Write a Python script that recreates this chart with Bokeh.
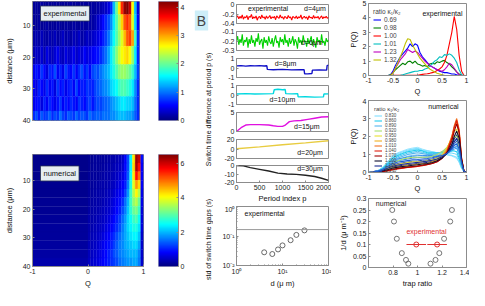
import numpy as np
from bokeh.plotting import figure
from bokeh.models import (Range1d, FixedTicker, Label, LinearColorMapper,
                          ColumnDataSource, Legend, LegendItem, Span)
from bokeh.transform import linear_cmap
from bokeh.layouts import row, column
from bokeh.embed import file_html
from bokeh.resources import INLINE

FONT = "Liberation Sans"
TICK_FS = "7px"
LAB_FS = "7.5px"
TXT_FS = "7px"
AX_COL = "#8c8c8c"

# ======================= DATA =======================
# ---- Panel A, experimental heatmap (rows = distance bands, cols = Q bins of 0.05)
exp_q_edges = [round(-1 + 0.05 * i, 2) for i in range(41)]
exp_d_edges = [2.4, 6.5, 11.5, 16.5, 22.3, 27.0, 32.4, 37.0, 40.0]
exp_r1 = [0.10,0.12,0.10,0.15,0.10,0.10,0.12,0.10,0.14,0.10,0.10,0.12,0.10,0.10,0.15,0.10,0.12,0.10,0.10,0.14,
          0.10,0.12,0.15,0.12,0.18,0.20,0.25,0.30,0.40,0.70,1.30,2.00,2.70,3.50,4.10,4.20,3.90,2.60,1.30,0.40]
exp_r2 = [0.12,0.10,0.14,0.10,0.12,0.15,0.10,0.12,0.10,0.16,0.12,0.10,0.14,0.12,0.10,0.15,0.12,0.10,0.16,0.12,
          0.14,0.18,0.15,0.20,0.30,0.40,0.55,0.70,0.85,1.10,1.50,1.90,2.30,2.80,3.30,3.50,3.30,2.50,1.40,0.50]
exp_r3 = [0.15,0.20,0.15,0.25,0.18,0.15,0.22,0.18,0.25,0.15,0.20,0.28,0.18,0.22,0.15,0.25,0.20,0.30,0.18,0.22,
          0.28,0.25,0.30,0.35,0.40,0.50,0.65,0.80,1.00,1.30,1.60,1.90,2.20,2.50,2.90,3.30,3.40,3.00,1.80,0.70]
exp_r4 = [0.20,0.30,0.25,0.35,0.20,0.40,0.30,0.25,0.35,0.45,0.30,0.25,0.40,0.30,0.35,0.45,0.30,0.40,0.35,0.50,
          0.40,0.45,0.50,0.55,0.60,0.70,0.85,1.00,1.20,1.50,1.80,2.10,2.40,2.60,2.70,2.80,2.60,2.20,1.50,0.70]
exp_r5 = [0.45,0.60,0.50,0.75,0.55,0.40,0.70,0.60,0.85,0.50,0.65,0.45,0.80,0.60,0.55,0.75,0.50,0.70,0.85,0.60,
          0.75,0.55,0.80,0.90,0.85,1.00,1.10,1.20,1.30,1.50,1.70,1.90,2.10,2.20,2.20,2.10,2.00,1.80,1.30,0.80]
exp_r6 = [0.50,0.40,0.65,0.55,0.45,0.70,0.50,0.60,0.40,0.75,0.55,0.65,0.45,0.60,0.70,0.50,0.80,0.55,0.65,0.60,
          0.75,0.70,0.65,0.80,0.90,0.95,1.05,1.10,1.20,1.40,1.50,1.60,1.80,1.90,1.90,1.80,1.70,1.50,1.10,0.70]
exp_r7 = [0.45,0.55,0.60,0.40,0.65,0.50,0.70,0.55,0.45,0.60,0.75,0.50,0.65,0.55,0.70,0.60,0.50,0.75,0.65,0.55,
          0.70,0.80,0.60,0.75,0.85,0.80,0.90,0.95,1.00,1.10,1.20,1.30,1.40,1.50,1.50,1.40,1.40,1.30,1.00,0.70]
exp_r8 = [0.70,0.85,0.65,0.90,0.75,0.80,0.95,0.70,0.85,0.75,1.00,0.80,0.70,0.90,0.85,0.75,0.95,0.80,0.90,0.85,
          0.75,1.00,0.85,0.90,0.95,0.90,1.00,1.00,1.00,1.10,1.10,1.20,1.30,1.30,1.30,1.20,1.20,1.10,0.90,0.70]
exp_rows = [exp_r1, exp_r2, exp_r3, exp_r4, exp_r5, exp_r6, exp_r7, exp_r8]
exp_clim = 4.2
exp_cb_ticks = [0, 1, 2, 3, 4]

# ---- Panel A, numerical heatmap (Q<0 one value per row, Q>=0 in bins of 0.05)
num_d_edges = [1, 4, 7, 10, 13, 16, 19, 22, 25, 28, 31, 34, 37, 40]
num_q_edges = [round(0.05 * i, 2) for i in range(21)]
num_left = [0.10, 0.10, 0.10, 0.12, 0.12, 0.14, 0.15, 0.16, 0.18, 0.20, 0.22, 0.25, 0.28]
num_r1 = [0.15,0.15,0.18,0.18,0.20,0.20,0.22,0.25,0.28,0.30,0.35,0.40,0.50,0.80,1.30,2.40,4.20,6.30,6.00,0.90]
num_r2 = [0.15,0.16,0.18,0.20,0.20,0.22,0.25,0.28,0.30,0.35,0.40,0.45,0.55,0.85,1.30,2.40,4.30,6.20,5.60,0.80]
num_r3 = [0.16,0.18,0.20,0.20,0.22,0.25,0.28,0.30,0.35,0.40,0.45,0.55,0.65,0.90,1.40,2.50,4.20,5.60,5.00,0.80]
num_r4 = [0.18,0.20,0.22,0.24,0.26,0.28,0.30,0.35,0.40,0.45,0.55,0.65,0.80,1.00,1.60,2.60,3.90,4.70,4.30,0.80]
num_r5 = [0.20,0.22,0.24,0.26,0.28,0.30,0.35,0.40,0.45,0.55,0.65,0.75,0.90,1.20,1.80,2.80,3.60,4.10,3.60,0.70]
num_r6 = [0.22,0.24,0.26,0.28,0.30,0.35,0.40,0.45,0.55,0.65,0.75,0.90,1.10,1.50,2.00,2.80,3.40,3.60,3.10,0.70]
num_r7 = [0.25,0.27,0.30,0.32,0.35,0.40,0.45,0.50,0.60,0.70,0.85,1.00,1.30,1.60,2.10,2.70,3.10,3.20,2.80,0.60]
num_r8 = [0.28,0.30,0.33,0.36,0.40,0.45,0.50,0.60,0.70,0.85,1.00,1.20,1.50,1.80,2.20,2.50,2.80,2.90,2.50,0.60]
num_r9 = [0.30,0.33,0.36,0.40,0.45,0.50,0.60,0.70,0.80,0.95,1.10,1.30,1.60,1.90,2.20,2.40,2.60,2.60,2.30,0.60]
num_r10 = [0.33,0.36,0.40,0.45,0.50,0.60,0.70,0.80,0.95,1.10,1.30,1.50,1.70,1.90,2.10,2.30,2.40,2.40,2.10,0.50]
num_r11 = [0.36,0.40,0.45,0.50,0.60,0.70,0.80,0.90,1.00,1.20,1.40,1.60,1.70,1.90,2.00,2.10,2.20,2.20,1.90,0.50]
num_r12 = [0.40,0.45,0.50,0.55,0.65,0.75,0.85,1.00,1.10,1.30,1.40,1.60,1.70,1.80,1.90,2.00,2.00,2.00,1.70,0.50]
num_r13 = [0.45,0.50,0.55,0.60,0.70,0.80,0.90,1.00,1.10,1.20,1.30,1.50,1.60,1.70,1.80,1.80,1.90,1.90,1.60,0.50]
num_rows = [num_r1, num_r2, num_r3, num_r4, num_r5, num_r6, num_r7, num_r8, num_r9, num_r10,
            num_r11, num_r12, num_r13]
num_clim = 6.5
num_cb_ticks = [0, 2, 4, 6]

# ---- Panel B, switch time differences vs period index
period_dense = list(range(0, 2001, 25))
sw_d4 = [-0.27,-0.24,-0.30,-0.25,-0.29,-0.22,-0.31,-0.26,-0.28,-0.23,
         -0.32,-0.25,-0.27,-0.21,-0.30,-0.26,-0.29,-0.24,-0.33,-0.27,
         -0.25,-0.30,-0.22,-0.28,-0.26,-0.31,-0.24,-0.29,-0.27,-0.23,
         -0.30,-0.26,-0.28,-0.25,-0.32,-0.24,-0.27,-0.29,-0.22,-0.28,
         -0.26,-0.31,-0.25,-0.27,-0.30,-0.23,-0.28,-0.26,-0.33,-0.25,
         -0.27,-0.29,-0.24,-0.30,-0.26,-0.28,-0.22,-0.31,-0.27,-0.25,
         -0.29,-0.26,-0.32,-0.24,-0.28,-0.27,-0.30,-0.23,-0.29,-0.26,
         -0.28,-0.25,-0.31,-0.27,-0.24,-0.30,-0.26,-0.28,-0.25,-0.29,
         -0.27]
sw_d6 = [-0.20,-0.15,-0.24,-0.18,-0.22,-0.13,-0.25,-0.19,-0.21,-0.16,
         -0.27,-0.18,-0.23,-0.14,-0.22,-0.19,-0.26,-0.17,-0.21,-0.12,
         -0.24,-0.20,-0.18,-0.28,-0.16,-0.22,-0.19,-0.25,-0.15,-0.21,
         -0.23,-0.17,-0.26,-0.19,-0.14,-0.22,-0.20,-0.27,-0.16,-0.21,
         -0.18,-0.24,-0.13,-0.22,-0.19,-0.26,-0.17,-0.23,-0.20,-0.15,
         -0.25,-0.18,-0.21,-0.28,-0.16,-0.22,-0.19,-0.24,-0.14,-0.21,
         -0.20,-0.26,-0.17,-0.23,-0.19,-0.15,-0.25,-0.18,-0.22,-0.27,
         -0.16,-0.21,-0.19,-0.24,-0.13,-0.22,-0.20,-0.25,-0.17,-0.21,
         -0.19]
sw_d8_p = [0, 100, 200, 300, 400, 500, 600, 660, 670, 800, 1000, 1200, 1400, 1470, 1480,
           1550, 1640, 1650, 1800, 1960, 1970, 2000]
sw_d8 = [0.22, 0.25, 0.20, 0.24, 0.22, 0.25, 0.21, 0.23, -0.15, -0.18, -0.15, -0.20, -0.17,
         -0.18, -0.60, -0.62, -0.58, -0.22, -0.20, -0.22, 0.25, 0.30]
sw_d10_p = [0, 200, 400, 600, 800, 820, 900, 1000, 1060, 1070, 1200, 1330, 1340, 1500, 1700,
            1890, 1900, 2000]
sw_d10 = [0.10, 0.15, 0.10, 0.12, 0.15, 0.55, 0.60, 0.55, 0.58, 0.15, 0.12, 0.15, -0.20, -0.18,
          -0.22, -0.20, 0.10, 0.12]
sw_d15_p = [0, 100, 200, 300, 500, 700, 800, 900, 1000, 1050, 1150, 1250, 1400, 1550, 1700, 1850, 2000]
sw_d15 = [0.0, 1.0, 1.7, 1.8, 1.8, 1.7, 1.5, 1.35, 1.35, 1.6, 2.6, 2.8, 2.9, 3.2, 3.5, 3.8, 3.9]
sw_d20_p = [0, 500, 1000, 1500, 2000]
sw_d20 = [0.5, 4.5, 9.0, 13.0, 17.5]
sw_d30_p = [0, 150, 300, 500, 700, 900, 1100, 1300, 1500, 1700, 1850, 2000]
sw_d30 = [0.0, -0.5, -2.5, -4.5, -6.5, -9.0, -10.0, -10.5, -11.5, -13.0, -15.0, -17.5]
b_series = [(period_dense, sw_d4), (period_dense, sw_d6), (sw_d8_p, sw_d8), (sw_d10_p, sw_d10),
            (sw_d15_p, sw_d15), (sw_d20_p, sw_d20), (sw_d30_p, sw_d30)]
b_colors = ["#ff0000", "#00d000", "#1010c8", "#00d8e0", "#e010e0", "#e8cc40", "#222222"]
b_labels = ["d=4\u03bcm", "d=6\u03bcm", "d=8\u03bcm", "d=10\u03bcm", "d=15\u03bcm", "d=20\u03bcm", "d=30\u03bcm"]
b_ylims = [(-0.4, 0), (-0.3, -0.1), (-1, 1), (-1, 1), (0, 5), (-20, 20), (-20, 0)]
b_yticks = [[-0.4, -0.2, 0], [-0.3, -0.2, -0.1], [-1, 0, 1], [-1, 0, 1], [0, 5], [-20, 0, 20], [-20, -10, 0]]
b_label_pos = [(1470, -0.08), (1400, -0.22), (830, 0.5), (720, -0.5), (1250, 1.2), (1320, -8), (1320, -4)]
period_ticks = [0, 500, 1000, 1500, 2000]

# ---- Panel B bottom: std of switch time gaps vs d (log-log)
gap_d = [4, 6, 8, 10, 15, 20, 30]
gap_std = [0.028, 0.0245, 0.035, 0.048, 0.072, 0.109, 0.155]
gap_ref_level = 0.165

# ---- Panel C top: experimental P(Q)
pq_q = [round(-1 + 0.05 * i, 2) for i in range(41)]
pq_069 = [0]*9 + [0.05,0.3,0.7,1.0,1.3,1.5,1.7,1.9,2.2,2.0,2.2,2.1,1.6,1.3,1.1,0.9,0.7,0.6,0.5,0.4,
                  0.3,0.25,0.2,0.2,0.15,0.1,0.1,0.05,0.02,0,0,0]
pq_098 = [0]*9 + [0.05,0.2,0.4,0.55,0.7,0.85,0.75,0.95,1.0,0.85,1.0,0.8,0.75,0.65,0.7,0.6,0.8,0.85,0.8,
                  0.95,0.9,1.0,1.05,0.9,0.8,0.6,0.45,0.25,0.1,0.02,0,0]
pq_100 = [0]*10 + [0.02]*11 + [0.05,0.08,0.1,0.12,0.15,0.2,0.25,0.35,0.45,0.6,0.9,1.4,2.2,3.0,4.1,3.2,
                               1.4,0.3] + [0, 0]
pq_101 = [0]*13 + [0.02,0.05,0.1,0.15,0.2,0.25,0.3,0.3,0.35,0.35,0.45,0.5,0.65,0.8,1.0,1.1,1.3,1.25,
                   1.45,1.4,1.5,1.4,1.2,0.9,0.4,0.05] + [0, 0]
pq_123 = [0]*10 + [0.2,0.5,0.8,1.1,1.3,1.5,1.8,1.7,1.6,1.7,1.6,1.4,1.2,1.0,0.85,0.7,0.6,0.5,0.4,0.35,
                   0.3,0.4,0.6,0.85,0.75,0.5,0.25,0.05] + [0, 0, 0]
pq_132 = [0]*10 + [0.15,0.5,0.9,1.3,1.7,2.2,2.55,2.5,2.1,1.8,1.5,1.2,1.0,0.8,0.6,0.45,0.35,0.25,0.15,
                   0.1,0.05,0.02] + [0]*9
pq_exp = [pq_069, pq_098, pq_100, pq_101, pq_123, pq_132]
pq_exp_labels = ["0.69", "0.98", "1.00", "1.01", "1.23", "1.32"]
pq_exp_colors = ["#0000ff", "#008000", "#ff0000", "#00bfbf", "#bf00bf", "#bfbf00"]

# ---- Panel C middle: numerical P(Q)
pn_q = [-1, -0.9, -0.8, -0.7, -0.6, -0.5, -0.4, -0.3, -0.2, -0.1, 0, 0.1, 0.2, 0.3, 0.4, 0.5,
        0.6, 0.7, 0.75, 0.8, 0.85, 0.9, 0.95, 1.0]
pn_0830 = [0,0.02,0.1,0.3,0.6,0.9,1.05,1.15,1.25,1.3,1.35,1.25,1.2,1.15,1.1,1.05,1.0,0.95,0.9,0.85,0.6,0.25,0.05,0]
pn_0860 = [0,0.02,0.08,0.25,0.5,0.8,0.95,1.05,1.15,1.2,1.25,1.2,1.1,1.1,1.1,1.1,1.15,1.2,1.2,1.15,0.8,0.3,0.05,0]
pn_0890 = [0,0.02,0.06,0.2,0.4,0.65,0.8,0.9,1.0,1.05,1.1,1.05,1.0,1.0,1.05,1.15,1.3,1.5,1.6,1.55,1.1,0.4,0.05,0]
pn_0920 = [0,0.02,0.05,0.15,0.3,0.5,0.65,0.75,0.8,0.85,0.85,0.85,0.85,0.9,1.0,1.15,1.4,1.8,2.0,2.0,1.4,0.5,0.05,0]
pn_0950 = [0,0.01,0.04,0.1,0.2,0.35,0.45,0.5,0.55,0.6,0.6,0.6,0.65,0.7,0.8,1.0,1.35,1.9,2.3,2.4,1.8,0.6,0.05,0]
pn_0980 = [0,0.01,0.03,0.08,0.15,0.25,0.3,0.35,0.4,0.42,0.45,0.48,0.5,0.6,0.7,0.9,1.3,2.0,2.5,2.8,2.2,0.7,0.05,0]
pn_1010 = [0,0.01,0.02,0.05,0.1,0.17,0.22,0.25,0.3,0.33,0.36,0.4,0.45,0.52,0.62,0.82,1.2,2.0,2.6,3.0,2.4,0.8,0.05,0]
pn_1040 = [0,0.01,0.02,0.05,0.1,0.16,0.2,0.24,0.28,0.3,0.34,0.38,0.43,0.5,0.6,0.8,1.15,1.9,2.5,2.9,2.3,0.8,0.05,0]
pn_1070 = [0,0.01,0.03,0.06,0.12,0.18,0.23,0.27,0.3,0.33,0.36,0.4,0.45,0.5,0.6,0.78,1.1,1.75,2.3,2.7,2.2,0.75,0.05,0]
pn_1100 = [0,0.01,0.04,0.1,0.17,0.25,0.3,0.33,0.36,0.4,0.43,0.47,0.5,0.56,0.65,0.8,1.05,1.55,2.0,2.3,1.9,0.7,0.05,0]
pn_1130 = [0,0.02,0.06,0.14,0.25,0.35,0.42,0.46,0.5,0.53,0.56,0.6,0.63,0.68,0.75,0.88,1.05,1.4,1.7,1.9,1.6,0.6,0.05,0]
pn_1170 = [0,0.02,0.08,0.2,0.35,0.5,0.58,0.62,0.66,0.7,0.72,0.75,0.78,0.82,0.88,0.95,1.05,1.3,1.5,1.6,1.3,0.5,0.05,0]
pn_curves = [pn_0830, pn_0860, pn_0890, pn_0920, pn_0950, pn_0980, pn_1010, pn_1040, pn_1070,
             pn_1100, pn_1130, pn_1170]
pn_labels = ["0.830", "0.860", "0.890", "0.920", "0.950", "0.980", "1.010", "1.040", "1.070",
             "1.100", "1.130", "1.170"]
pn_colors = ["#80dfff", "#22ccee", "#55b5ee", "#a8e070", "#e8e030", "#f0b020", "#f07020",
             "#e02010", "#a00000", "#101030", "#1a2a90", "#2060d0"]
# further (unlabelled) numerical curves that make up the dense mesh
pn_extra = [
    [0,0.02,0.09,0.28,0.55,0.85,1.0,1.1,1.2,1.28,1.3,1.22,1.15,1.12,1.1,1.08,1.08,1.08,1.05,1.0,0.7,0.28,0.05,0],
    [0,0.02,0.07,0.22,0.45,0.72,0.88,0.98,1.08,1.12,1.18,1.12,1.05,1.05,1.08,1.12,1.22,1.35,1.4,1.35,0.95,0.35,0.05,0],
    [0,0.02,0.05,0.18,0.35,0.58,0.72,0.82,0.9,0.95,0.98,0.95,0.92,0.95,1.02,1.15,1.35,1.65,1.8,1.78,1.25,0.45,0.05,0],
    [0,0.01,0.05,0.12,0.2,0.3,0.36,0.4,0.43,0.46,0.5,0.53,0.56,0.62,0.7,0.84,1.05,1.48,1.85,2.1,1.75,0.65,0.05,0],
    [0,0.02,0.07,0.17,0.3,0.42,0.5,0.54,0.58,0.62,0.64,0.68,0.7,0.75,0.82,0.92,1.05,1.35,1.6,1.75,1.45,0.55,0.05,0],
    [0,0.03,0.1,0.24,0.42,0.58,0.66,0.7,0.75,0.8,0.82,0.85,0.86,0.88,0.92,0.98,1.06,1.25,1.4,1.45,1.2,0.45,0.05,0],
    [0,0.04,0.12,0.28,0.5,0.68,0.76,0.8,0.86,0.9,0.93,0.94,0.94,0.95,0.96,1.0,1.05,1.2,1.3,1.35,1.1,0.4,0.05,0],
    [0,0.03,0.11,0.32,0.62,0.95,1.1,1.2,1.3,1.36,1.4,1.3,1.22,1.16,1.1,1.02,0.98,0.92,0.85,0.78,0.55,0.22,0.04,0],
]
pn_extra_colors = ["#66d8f8", "#44c4f0", "#66bbee", "#162070", "#1e44b0", "#2a78e0", "#3a90ea", "#9ae6ff"]

# ---- Panel C bottom: 1/d vs trap ratio
tr_num = [0.794, 0.808, 0.831, 0.872, 0.906, 0.925, 1.281, 1.267, 1.217, 1.178, 1.147, 1.106]
invd_num = [0.25, 0.2, 0.125, 0.0625, 0.033, 0.0167, 0.25, 0.2, 0.125, 0.0625, 0.033, 0.0167]
tr_exp = [0.99, 1.16]
invd_exp = [0.1, 0.1]
tr_exp_err = [0.08, 0.08]

# ======================= HELPERS =======================
def jet_palette(n=256):
    out = []
    for i in range(n):
        t = i / (n - 1)
        r = min(max(1.5 - abs(4 * t - 3), 0), 1)
        g = min(max(1.5 - abs(4 * t - 2), 0), 1)
        b = min(max(1.5 - abs(4 * t - 1), 0), 1)
        out.append("#%02x%02x%02x" % (int(r * 255), int(g * 255), int(b * 255)))
    return out

JET = jet_palette()


def spec(ox, oy, w, h, ml, mr, mt, mb, xr, yr, xlog=False, ylog=False):
    return dict(ox=ox, oy=oy, w=w, h=h, ml=ml, mr=mr, mt=mt, mb=mb, xr=xr, yr=yr, xlog=xlog, ylog=ylog)


def to_data(s, cx, cy):
    fx0 = s['ox'] + s['ml']; fx1 = s['ox'] + s['w'] - s['mr']
    fy0 = s['oy'] + s['mt']; fy1 = s['oy'] + s['h'] - s['mb']
    x0, x1 = s['xr']; y0, y1 = s['yr']
    if s['xlog']:
        x0, x1 = np.log10(x0), np.log10(x1)
    if s['ylog']:
        y0, y1 = np.log10(y0), np.log10(y1)
    x = x0 + (cx - fx0) / (fx1 - fx0) * (x1 - x0)
    y = y0 + (fy1 - cy) / (fy1 - fy0) * (y1 - y0)
    if s['xlog']:
        x = 10 ** x
    if s['ylog']:
        y = 10 ** y
    return float(x), float(y)


def style_axes(p):
    for ax in p.axis:
        ax.major_label_text_font = FONT
        ax.major_label_text_font_size = TICK_FS
        ax.major_label_text_color = "#222222"
        ax.axis_label_text_font = FONT
        ax.axis_label_text_font_size = LAB_FS
        ax.axis_label_text_font_style = "normal"
        ax.axis_label_text_color = "#111111"
        ax.axis_line_color = AX_COL
        ax.major_tick_line_color = AX_COL
        ax.minor_tick_line_color = AX_COL
        ax.major_tick_in = 2
        ax.major_tick_out = 0
        ax.minor_tick_in = 1
        ax.minor_tick_out = 0
        ax.major_label_standoff = 2
        ax.axis_label_standoff = 2


def mkfig(s, xloc="below", yloc="left"):
    p = figure(width=s['w'], height=s['h'],
               x_range=Range1d(*s['xr']), y_range=Range1d(*s['yr']),
               x_axis_type="log" if s['xlog'] else "linear",
               y_axis_type="log" if s['ylog'] else "linear",
               x_axis_location=xloc, y_axis_location=yloc,
               output_backend="svg", toolbar_location=None,
               min_border_left=s['ml'], min_border_right=s['mr'],
               min_border_top=s['mt'], min_border_bottom=s['mb'])
    p.grid.visible = False
    p.outline_line_color = AX_COL
    p.background_fill_color = "white"
    p.border_fill_color = "white"
    style_axes(p)
    return p


def set_ticks(ax, ticks, labels=None, minor=None):
    ax.ticker = FixedTicker(ticks=ticks, minor_ticks=minor or [])
    ax.major_label_overrides = {t: (labels[i] if labels else "%g" % t) for i, t in enumerate(ticks)}


def add_text(p, s, cx, cy, text, size=TXT_FS, align="left", baseline="middle", angle=0.0,
             color="#111111", bg=None, border=None, pad=0):
    x, y = to_data(s, cx, cy)
    p.add_layout(Label(x=x, y=y, text=text, text_font=FONT, text_font_size=size,
                       text_align=align, text_baseline=baseline, angle=angle, text_color=color,
                       background_fill_color=bg, border_line_color=border, border_line_width=0.8,
                       padding=pad))


LETTER_BG = "#cdeef8"
BOX_BG = "#e6eef2"

# ======================= PANEL A =======================
sA1 = spec(0, 0, 158, 140, 32, 19, 1, 20, (-1, 1), (40, 2.4))
pA1 = mkfig(sA1, xloc=None)
L, R, T, B, V = [], [], [], [], []
for j, rv in enumerate(exp_rows):
    for i, v in enumerate(rv):
        L.append(exp_q_edges[i]); R.append(exp_q_edges[i + 1])
        T.append(exp_d_edges[j]); B.append(exp_d_edges[j + 1]); V.append(v)
srcA1 = ColumnDataSource(dict(left=L, right=R, top=T, bottom=B, v=V))
cmapA1 = linear_cmap("v", JET, 0, exp_clim)
pA1.quad(left="left", right="right", top="top", bottom="bottom", source=srcA1,
         fill_color=cmapA1, line_color=cmapA1, line_width=0.3)
pA1.yaxis.axis_label = "distance (\u03bcm)"
pA1.yaxis.axis_label_standoff = 6
set_ticks(pA1.yaxis[0], [10, 20, 30, 40])
add_text(pA1, sA1, 40, 13, "experimental", size="7.5px", bg=BOX_BG, border="#2a3550", pad=3)
add_text(pA1, sA1, 11, 16, "A", size="15px", align="center", bg=LETTER_BG, pad=5)

sCB1 = spec(158, 0, 35, 140, 0, 15, 1, 19, (0, 1), (0, exp_clim))
cb1 = mkfig(sCB1, xloc=None, yloc="right")
cb1.image(image=[np.linspace(0, exp_clim, 256).reshape(256, 1)], x=0, y=0, dw=1, dh=exp_clim,
          color_mapper=LinearColorMapper(palette=JET, low=0, high=exp_clim))
set_ticks(cb1.yaxis[0], exp_cb_ticks)
cb1.outline_line_color = "#a0a0c0"

sA2 = spec(0, 140, 158, 150, 32, 15, 6, 20, (-1, 1), (40, 1))
pA2 = mkfig(sA2)
L, R, T, B, V = [], [], [], [], []
for j, rv in enumerate(num_rows):
    L.append(-1); R.append(0); T.append(num_d_edges[j]); B.append(num_d_edges[j + 1]); V.append(num_left[j])
    for i, v in enumerate(rv):
        L.append(num_q_edges[i]); R.append(num_q_edges[i + 1])
        T.append(num_d_edges[j]); B.append(num_d_edges[j + 1]); V.append(v)
srcA2 = ColumnDataSource(dict(left=L, right=R, top=T, bottom=B, v=V))
cmapA2 = linear_cmap("v", JET, 0, num_clim)
pA2.quad(left="left", right="right", top="top", bottom="bottom", source=srcA2,
         fill_color=cmapA2, line_color=cmapA2, line_width=0.3)
pA2.yaxis.axis_label = "distance (\u03bcm)"
pA2.yaxis.axis_label_standoff = 6
pA2.xaxis.axis_label = "Q"
set_ticks(pA2.yaxis[0], [10, 20, 30, 40])
set_ticks(pA2.xaxis[0], [-1, 0, 1])
add_text(pA2, sA2, 40, 167, "numerical", size="7.5px", bg=BOX_BG, border="#2a3550", pad=3)

sCB2 = spec(158, 140, 35, 150, 0, 15, 14, 17, (0, 1), (0, num_clim))
cb2 = mkfig(sCB2, xloc=None, yloc="right")
cb2.image(image=[np.linspace(0, num_clim, 256).reshape(256, 1)], x=0, y=0, dw=1, dh=num_clim,
          color_mapper=LinearColorMapper(palette=JET, low=0, high=num_clim))
set_ticks(cb2.yaxis[0], num_cb_ticks)
cb2.outline_line_color = "#a0a0c0"

colA = column(row(pA1, cb1), row(pA2, cb2))

# ======================= PANEL B =======================
sLB = spec(193, 0, 20, 290, 0, 0, 0, 0, (0, 20), (290, 0))
pLB = mkfig(sLB, xloc=None, yloc=None)
pLB.outline_line_color = None
pLB.add_layout(Label(x=8, y=20, text="B", text_font=FONT, text_font_size="14px", text_align="center",
                     text_baseline="middle", background_fill_color=LETTER_BG, padding=2))
pLB.add_layout(Label(x=14.5, y=109, text="Switch time difference at period p (s)", text_font=FONT,
                     text_font_size="7px", text_align="center", text_baseline="middle",
                     angle=np.pi / 2, text_color="#111111"))
pLB.add_layout(Label(x=14.5, y=239, text="std of switch time gaps (s)", text_font=FONT,
                     text_font_size="7px", text_align="center", text_baseline="middle",
                     angle=np.pi / 2, text_color="#111111"))

b_figs = []
for i in range(7):
    if i < 6:
        s = spec(213, 27 * i, 118, 27, 23, 3, 4, 4, (0, 2000), b_ylims[i])
        p = mkfig(s, xloc=None)
    else:
        s = spec(213, 162, 118, 43, 23, 3, 3, 21, (0, 2000), b_ylims[i])
        p = mkfig(s)
        set_ticks(p.xaxis[0], period_ticks)
        p.xaxis.axis_label = "Period index p"
        p.xaxis.axis_label_standoff = 1
    xs, ys = b_series[i]
    p.line(xs, ys, line_color=b_colors[i], line_width=1.1 if i < 2 else 1.4)
    set_ticks(p.yaxis[0], b_yticks[i])
    lx, ly = b_label_pos[i]
    p.add_layout(Label(x=lx, y=ly, text=b_labels[i], text_font=FONT, text_font_size=TXT_FS,
                       text_baseline="middle", text_color="#111111"))
    if i == 0:
        p.add_layout(Label(x=250, y=ly, text="experimental", text_font=FONT, text_font_size=TXT_FS,
                           text_baseline="middle", text_color="#111111"))
    b_figs.append(p)

sBL = spec(213, 205, 118, 85, 23, 3, 1, 20, (1, 100), (0.01, 1), xlog=True, ylog=True)
pBL = mkfig(sBL)
pBL.add_layout(Span(location=gap_ref_level, dimension="width", line_color="#9a9a9a", line_width=1))
pBL.scatter(gap_d, gap_std, marker="circle", size=5, fill_color=None, line_color="#444444", line_width=0.8)
set_ticks(pBL.xaxis[0], [1, 10, 100], ["10\u2070", "10\u00b9", "10\u00b2"],
          minor=[2, 3, 4, 5, 6, 7, 8, 9, 20, 30, 40, 50, 60, 70, 80, 90])
set_ticks(pBL.yaxis[0], [0.01, 0.1, 1], ["10\u207b\u00b2", "10\u207b\u00b9", "10\u2070"],
          minor=[0.02, 0.03, 0.04, 0.05, 0.06, 0.07, 0.08, 0.09, 0.2, 0.3, 0.4, 0.5, 0.6, 0.7, 0.8, 0.9])
pBL.xaxis.axis_label = "d (\u03bc m)"
pBL.xaxis.axis_label_standoff = 1
pBL.add_layout(Label(x=1.5, y=0.6, text="experimental", text_font=FONT, text_font_size=TXT_FS,
                     text_baseline="middle", text_color="#111111"))

colB = row(pLB, column(*b_figs, pBL))

# ======================= PANEL C =======================
sC1 = spec(331, 0, 138, 98, 37, 3, 3, 20, (-1, 1), (0, 5))
pC1 = mkfig(sC1)
items = []
for ys, lab, colr in zip(pq_exp, pq_exp_labels, pq_exp_colors):
    r = pC1.line(pq_q, ys, line_color=colr, line_width=1.1)
    items.append(LegendItem(label=lab, renderers=[r]))
leg1 = Legend(items=items, location="top_left", title="ratio \u03ba\u2081/\u03ba\u2082",
              title_text_font=FONT, title_text_font_size="6.5px", title_text_font_style="normal",
              title_standoff=1, label_text_font=FONT, label_text_font_size="6.5px",
              glyph_width=8, glyph_height=7, label_height=7, spacing=1, padding=2, margin=3,
              label_standoff=3, border_line_alpha=0, background_fill_alpha=0)
pC1.add_layout(leg1)
set_ticks(pC1.xaxis[0], [-1, -0.5, 0, 0.5, 1])
set_ticks(pC1.yaxis[0], [0, 1, 2, 3, 4, 5])
pC1.xaxis.axis_label = "Q"
pC1.yaxis.axis_label = "P(Q)"
pC1.xaxis.axis_label_standoff = 1
pC1.add_layout(Label(x=0.1, y=4.3, text="experimental", text_font=FONT, text_font_size=TXT_FS,
                     text_baseline="middle", text_color="#111111"))
add_text(pC1, sC1, 346, 17.5, "C", size="15px", align="center", bg=LETTER_BG, pad=3)

sC2 = spec(331, 98, 138, 97, 37, 3, 2, 20, (-1, 1), (0, 4))
pC2 = mkfig(sC2)
for ys, colr in zip(pn_extra, pn_extra_colors):
    pC2.line(pn_q, ys, line_color=colr, line_width=1.0)
items = []
for ys, lab, colr in zip(pn_curves, pn_labels, pn_colors):
    r = pC2.line(pn_q, ys, line_color=colr, line_width=1.1)
    items.append(LegendItem(label=lab, renderers=[r]))
leg2 = Legend(items=items, location="top_left", title="ratio \u03ba\u2081/\u03ba\u2082",
              title_text_font=FONT, title_text_font_size="6px", title_text_font_style="normal",
              title_standoff=1, label_text_font=FONT, label_text_font_size="4.5px",
              glyph_width=8, glyph_height=3, label_height=3, spacing=0, padding=2, margin=4,
              label_standoff=3, border_line_alpha=0, background_fill_alpha=0)
pC2.add_layout(leg2)
set_ticks(pC2.xaxis[0], [-1, -0.5, 0, 0.5, 1])
set_ticks(pC2.yaxis[0], [0, 1, 2, 3, 4])
pC2.xaxis.axis_label = "Q"
pC2.yaxis.axis_label = "P(Q)"
pC2.xaxis.axis_label_standoff = 1
pC2.add_layout(Label(x=0.22, y=3.65, text="numerical", text_font=FONT, text_font_size=TXT_FS,
                     text_baseline="middle", text_color="#111111"))

sC3 = spec(331, 195, 138, 95, 37, 3, 3, 20, (0.6, 1.4), (0, 0.3))
pC3 = mkfig(sC3)
pC3.scatter(tr_num, invd_num, marker="circle", size=5, fill_color=None, line_color="#555555", line_width=0.8)
pC3.segment(x0=[a - e for a, e in zip(tr_exp, tr_exp_err)], y0=invd_exp,
            x1=[a + e for a, e in zip(tr_exp, tr_exp_err)], y1=invd_exp, line_color="#e03030", line_width=1)
pC3.scatter(tr_exp, invd_exp, marker="circle", size=5, fill_color=None, line_color="#e03030", line_width=1)
set_ticks(pC3.xaxis[0], [0.8, 1, 1.2, 1.4])
set_ticks(pC3.yaxis[0], [0, 0.05, 0.1, 0.15, 0.2, 0.25, 0.3])
pC3.xaxis.axis_label = "trap ratio"
pC3.yaxis.axis_label = "1/d (\u03bc m\u207b\u00b9)"
pC3.xaxis.axis_label_standoff = 1
pC3.add_layout(Label(x=0.66, y=0.278, text="numerical", text_font=FONT, text_font_size=TXT_FS,
                     text_baseline="middle", text_color="#222222"))
pC3.add_layout(Label(x=0.91, y=0.157, text="experimental", text_font=FONT, text_font_size=TXT_FS,
                     text_baseline="middle", text_color="#e03030"))

colC = column(pC1, pC2, pC3)

page = row(colA, colB, colC)
open("out.html", "w").write(file_html(page, INLINE))
